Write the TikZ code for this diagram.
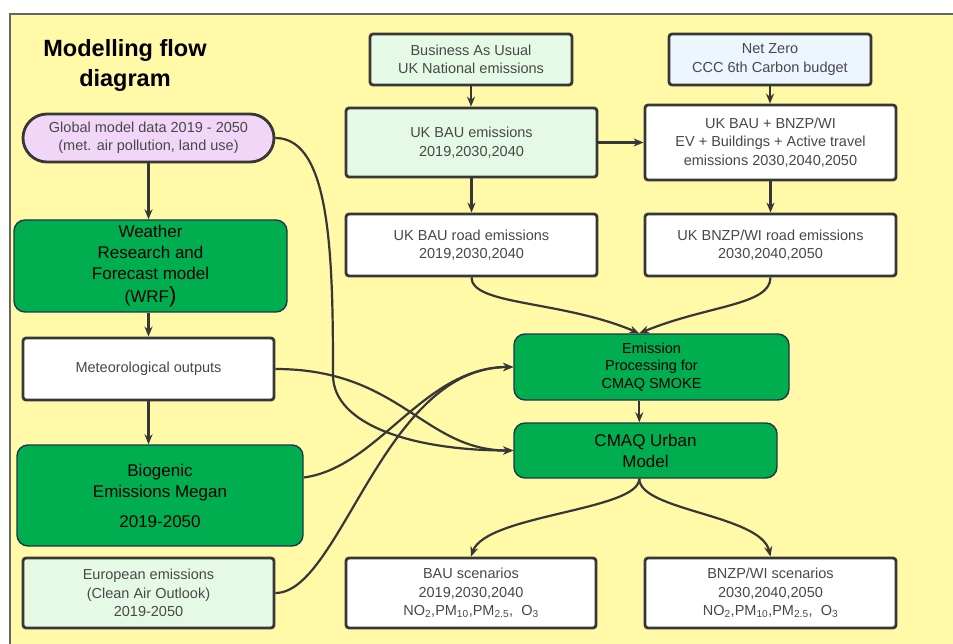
\documentclass[tikz,border=0pt]{standalone}
\usepackage{fontspec}
\setmainfont{Liberation Sans}
\usetikzlibrary{arrows.meta, calc}

\definecolor{bgyellow}{RGB}{255,249,168}
\definecolor{wrfgreen}{RGB}{0,174,80}
\definecolor{lilac}{RGB}{242,214,248}
\definecolor{mintbox}{RGB}{228,250,231}
\definecolor{skybox}{RGB}{237,245,255}
\definecolor{edgegray}{RGB}{55,55,55}
\definecolor{txtgray}{RGB}{72,72,72}
\definecolor{navyline}{RGB}{30,55,75}

\tikzset{
  databox/.style={draw=edgegray, line width=2.8pt, rounded corners=3pt, fill=white,
    align=center, text=txtgray, font=\fontsize{14.5}{18.5}\selectfont, inner sep=0pt},
  modelbox/.style={draw=navyline, line width=1.4pt, rounded corners=11pt, fill=wrfgreen,
    align=center, text=black, font=\fontsize{17}{21}\selectfont, inner sep=0pt},
  flow/.style={->, draw=edgegray, line width=2.2pt},
}

\begin{document}
\begin{tikzpicture}[x=1pt, y=-1pt, >={Stealth[length=10pt,width=8pt]}]
  \useasboundingbox (0,0) rectangle (953,644);
  % yellow sheet
  \fill[bgyellow] (10,14) rectangle (953,644);
  \draw[gray!80!black, line width=1.2pt] (10,644) -- (10,14) -- (953,14);

  \node[font=\fontsize{23.5}{30}\selectfont\bfseries, align=center] (title) at (125,65) {Modelling flow\\diagram};

  % left column
  \node[databox, fill=lilac, rounded corners=24pt, minimum width=251pt, minimum height=48pt] (glob) at (148.5,138)
    {Global model data 2019 - 2050\\(met. air pollution, land use)};
  \node[modelbox, minimum width=273pt, minimum height=92pt] (wrf) at (150.5,266)
    {Weather\\Research and\\Forecast model\\[2pt](WRF{\fontsize{22}{22}\selectfont)}};
  \node[databox, minimum width=251pt, minimum height=62pt] (met) at (148.5,369) {Meteorological outputs};
  \node[modelbox, minimum width=286pt, minimum height=101pt] (bio) at (160,495.5)
    {Biogenic\\Emissions Megan\\[9pt]2019-2050};
  \node[databox, fill=mintbox, minimum width=251pt, minimum height=70pt] (euro) at (148.5,593)
    {European emissions\\(Clean Air Outlook)\\2019-2050};

  % emission scenarios
  \node[databox, fill=mintbox, minimum width=202pt, minimum height=51pt] (bau) at (471,59.5)
    {Business As Usual\\UK National emissions};
  \node[databox, fill=skybox, minimum width=202pt, minimum height=51pt] (nz) at (770,59.5)
    {Net Zero\\CCC 6th Carbon budget};
  \node[databox, fill=mintbox, minimum width=251pt, minimum height=69pt] (baue) at (471.5,142.5)
    {UK BAU emissions\\2019,2030,2040};
  \node[databox, minimum width=251pt, minimum height=75pt] (bnzp) at (770.5,142.5)
    {UK BAU + BNZP/WI\\EV + Buildings + Active travel\\emissions 2030,2040,2050};
  \node[databox, minimum width=251pt, minimum height=62pt] (baur) at (471.5,245)
    {UK BAU road emissions\\2019,2030,2040};
  \node[databox, minimum width=251pt, minimum height=62pt] (bnzpr) at (770.5,245)
    {UK BNZP/WI road emissions\\2030,2040,2050};

  % models and outputs
  \node[modelbox, font=\fontsize{14.5}{17.5}\selectfont, minimum width=275pt, minimum height=66pt] (emis) at (651.5,367)
    {Emission\\Processing for\\CMAQ SMOKE};
  \node[modelbox, minimum width=263pt, minimum height=55pt] (cmaq) at (645.5,450.5) {CMAQ Urban\\Model};
  \node[databox, minimum width=250pt, minimum height=70pt] (bausc) at (471,593)
    {BAU scenarios\\2019,2030,2040\\NO\textsubscript{2},PM\textsubscript{10},PM\textsubscript{2.5},\ \ O\textsubscript{3}};
  \node[databox, minimum width=251pt, minimum height=70pt] (bnzpsc) at (770.5,593)
    {BNZP/WI scenarios\\2030,2040,2050\\NO\textsubscript{2},PM\textsubscript{10},PM\textsubscript{2.5},\ \ O\textsubscript{3}};

  \coordinate (emtop) at ([xshift=126pt]emis.north west);
  \coordinate (cmbot) at (emtop |- cmaq.south);
  \coordinate (gbend) at (333,375);

  % straight arrows
  \draw[flow] (glob.south) -- (glob.south |- wrf.north);
  \draw[flow] (met.north |- wrf.south) -- (met.north);
  \draw[flow] (met.south) -- (met.south |- bio.north);
  \draw[flow] (bau.south) -- (bau.south |- baue.north);
  \draw[flow] (nz.south) -- (nz.south |- bnzp.north);
  \draw[flow] (baue.east) -- (baue.east -| bnzp.west);
  \draw[flow] (baue.south) -- (baur.north);
  \draw[flow] (bnzp.south) -- (bnzpr.north);
  \draw[flow] (emtop |- emis.south) -- (emtop |- cmaq.north);

  % curved arrows
  \draw[flow] (baur.south) .. controls +(0,28) and +(-78,-33) .. (emtop);
  \draw[flow] (bnzpr.south) .. controls +(0,28) and +(68,-28) .. (emtop);
  \draw[flow] (glob.east) .. controls +(55,0) and +(0,-120) .. (gbend)
    .. controls +(0,50) and +(-100,0) .. (cmaq.west);
  \draw[flow] (met.east) .. controls +(125,0) and +(-90,0) .. (cmaq.west);
  \draw[flow] ([yshift=18pt]bio.east) .. controls +(75,-10) and +(-90,0) .. (emis.west);
  \draw[flow] (euro.east) .. controls +(65,0) and +(-130,0) .. (emis.west);
  \draw[flow] (cmbot) .. controls +(0,32) and +(15,-42) .. (bausc.north);
  \draw[flow] (cmbot) .. controls +(0,32) and +(-10,-42) .. (bnzpsc.north);
\end{tikzpicture}
\end{document}
